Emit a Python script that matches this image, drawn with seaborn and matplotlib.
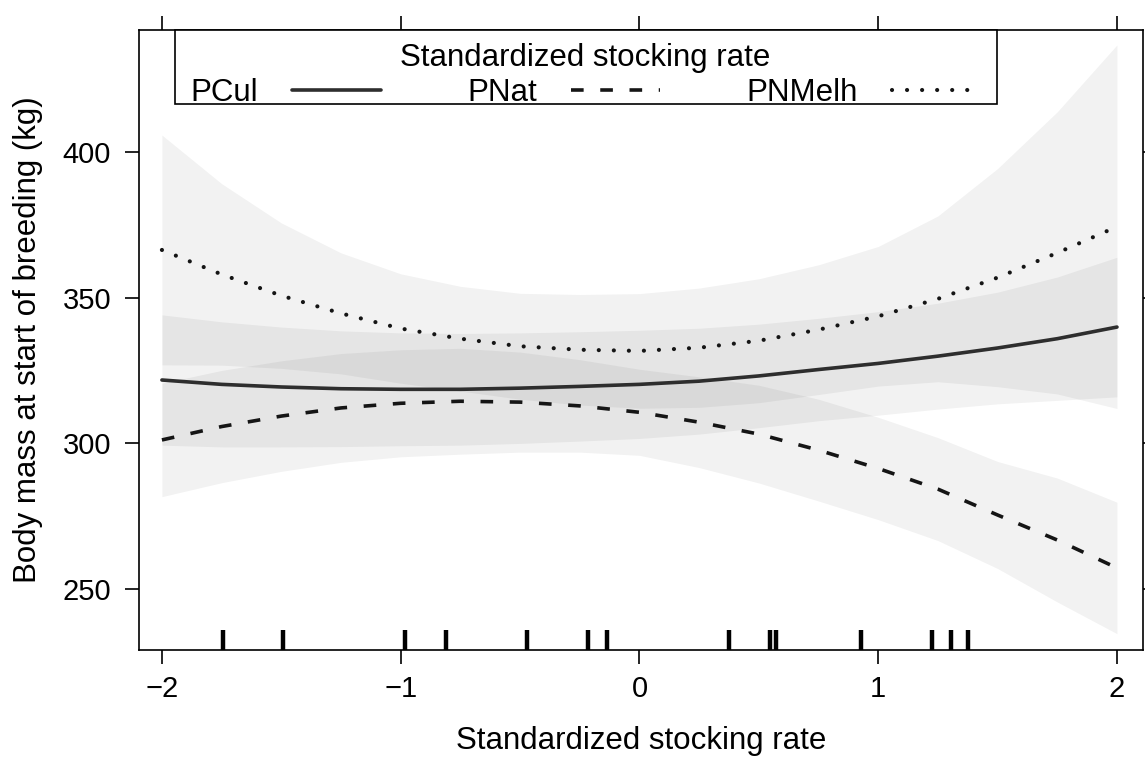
import numpy as np
import pandas as pd
import matplotlib
matplotlib.use("Agg")
import matplotlib.pyplot as plt
import seaborn as sns
from matplotlib.lines import Line2D
from matplotlib.patches import Rectangle

# ---------------- data ----------------
sr = [-2.0, -1.75, -1.5, -1.25, -1.0, -0.75, -0.5, -0.25, 0.0,
      0.25, 0.5, 0.75, 1.0, 1.25, 1.5, 1.75, 2.0]

pcul_fit = [321.8, 320.3, 319.4, 318.8, 318.6, 318.6, 319.0, 319.6, 320.3,
            321.4, 323.2, 325.4, 327.5, 330.0, 332.8, 336.0, 340.0]
pcul_upper = [344.2, 341.8, 340.0, 338.7, 338.0, 337.8, 338.0, 338.4, 338.9,
              339.6, 341.0, 343.0, 345.3, 348.2, 352.0, 357.2, 364.0]
pcul_lower = [299.4, 298.8, 298.8, 298.9, 299.2, 299.4, 300.0, 300.8, 301.7,
              303.2, 305.4, 307.8, 309.7, 311.8, 313.6, 314.8, 316.0]

pnat_fit = [301.2, 305.8, 309.4, 312.2, 313.8, 314.5, 314.2, 312.9, 310.7,
            307.3, 303.2, 297.7, 291.4, 284.3, 275.4, 266.8, 257.2]
pnat_upper = [320.7, 325.1, 328.4, 330.9, 332.2, 332.7, 331.4, 328.8, 325.5,
              322.9, 320.0, 315.2, 309.0, 302.0, 293.8, 288.1, 279.8]
pnat_lower = [281.7, 286.5, 290.4, 293.5, 295.4, 296.3, 297.0, 297.0, 295.9,
              291.7, 286.4, 280.2, 273.8, 266.6, 257.0, 245.5, 234.6]

pnmelh_fit = [366.5, 358.1, 350.8, 344.7, 339.5, 336.0, 333.4, 332.2, 331.8,
              332.9, 335.3, 339.1, 343.7, 349.7, 357.0, 365.5, 374.5]
pnmelh_upper = [406.0, 389.3, 375.8, 365.5, 358.3, 354.0, 351.6, 351.2, 351.5,
                353.4, 356.6, 361.4, 367.7, 378.2, 394.5, 414.0, 437.0]
pnmelh_lower = [327.0, 326.9, 325.8, 323.9, 320.7, 318.0, 315.2, 313.2, 312.1,
                312.4, 314.0, 316.8, 319.7, 321.2, 319.5, 317.0, 312.0]

rug_sr = [-1.745, -1.492, -0.983, -0.810, -0.471, -0.217, -0.134, 0.374,
          0.545, 0.574, 0.926, 1.225, 1.305, 1.375]

series_names = ["PCul", "PNat", "PNMelh"]
x_ticks = [-2, -1, 0, 1, 2]
y_ticks = [250, 300, 350, 400]
x_label = "Standardized stocking rate"
y_label = "Body mass at start of breeding (kg)"
legend_title = "Standardized stocking rate"

# ---------------- styling ----------------
sns.set_theme(style="white")
plt.rcParams['font.family'] = ['Liberation Sans', 'DejaVu Sans']
plt.rcParams['text.color'] = 'black'
plt.rcParams['axes.labelcolor'] = 'black'

W, H = 1145, 758
fig = plt.figure(figsize=(W / 100, H / 100), dpi=100)
ax = fig.add_axes([139 / W, 108 / H, 1004 / W, 620 / H])

band_sets = [(pcul_lower, pcul_upper), (pnat_lower, pnat_upper),
             (pnmelh_lower, pnmelh_upper)]
for lo, hi in band_sets:
    ax.fill_between(sr, lo, hi, color="black", alpha=0.05, lw=0)

styles = {
    "PCul": dict(linestyle="-", color="#2e2e2e", lw=2.6),
    "PNat": dict(linestyle=(0, (3.5, 4.6)), color="#151515", lw=2.6),
    "PNMelh": dict(linestyle=(0, (0.01, 3.6)), color="#151515", lw=3.0,
                   dash_capstyle="round"),
}
fits = {"PCul": pcul_fit, "PNat": pnat_fit, "PNMelh": pnmelh_fit}
for name in series_names:
    sns.lineplot(x=sr, y=fits[name], ax=ax, **styles[name])

sns.rugplot(x=rug_sr, ax=ax, height=0.032, linewidth=3.2, color="black")

ax.set_xlim(-2.096, 2.109)
ax.set_ylim(229.0, 442.1)
ax.set_xticks(x_ticks)
ax.set_xticklabels([f"{t}".replace("-", "\u2212") for t in x_ticks])
ax.set_yticks(y_ticks)
ax.tick_params(axis="both", which="both", direction="out", length=10,
               width=1.2, colors="black", labelsize=21,
               bottom=True, top=True, left=True, right=True,
               labeltop=False, labelright=False)
ax.tick_params(axis="x", pad=8)
ax.tick_params(axis="y", pad=10)
for sp in ax.spines.values():
    sp.set_visible(True)
    sp.set_color("black")
    sp.set_linewidth(1.2)

ax.set_xlabel(x_label, fontsize=22.5)
ax.set_ylabel(y_label, fontsize=22.5)
ax.xaxis.set_label_coords(0.5, (650 - 726) / 620)
ax.yaxis.set_label_coords((43 - 139) / 1004, 0.5)

# legend box (drawn like lattice's key frame)
box = Rectangle((36 / 1004, (650 - 104) / 620), 822 / 1004, 74 / 620,
                transform=ax.transAxes, facecolor="white", edgecolor="black",
                lw=1.2, zorder=4, clip_on=False)
ax.add_patch(box)

handles = [Line2D([], [], **styles[n]) for n in series_names]
leg = ax.legend(handles, series_names, ncol=3, markerfirst=False,
                title=legend_title, title_fontsize=22.5, fontsize=22.5,
                loc="upper left", bbox_to_anchor=(0.051, 0.979),
                frameon=False, borderpad=0, handlelength=2.85,
                handletextpad=1.1, columnspacing=2.75, borderaxespad=0,
                labelspacing=0.16)
leg.set_zorder(5)

fig.savefig("out.png", dpi=100)
